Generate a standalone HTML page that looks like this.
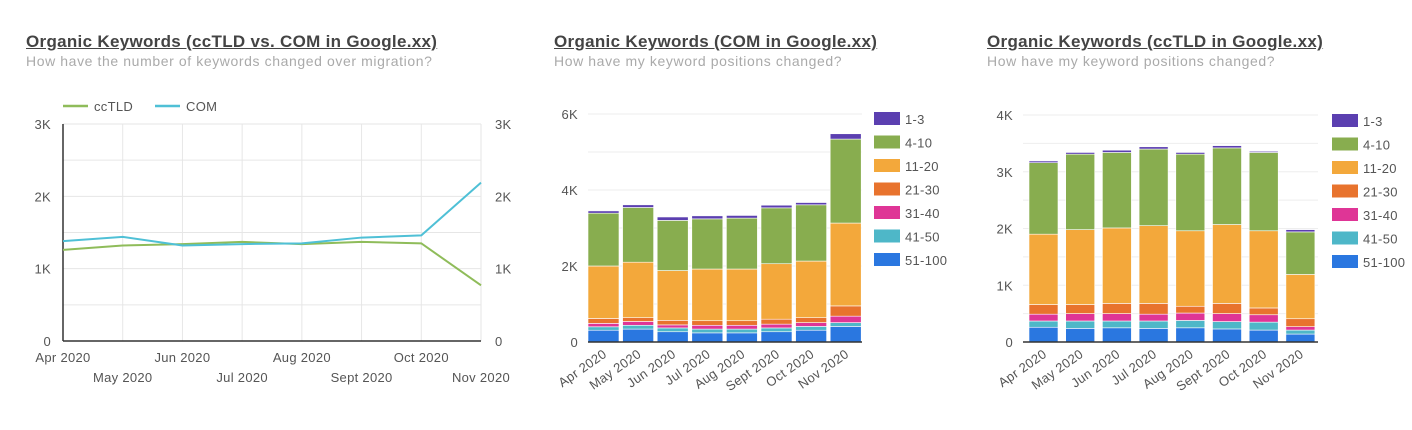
<!DOCTYPE html>
<html><head><meta charset="utf-8"><style>
body{margin:0;width:1412px;height:430px;background:#fff;font-family:"Liberation Sans",sans-serif;overflow:hidden;position:relative}
.t{position:absolute;font-size:17px;font-weight:bold;color:#444;text-decoration:underline;white-space:nowrap;letter-spacing:0.3px}
.s{position:absolute;font-size:14px;color:#aaa;white-space:nowrap;letter-spacing:0.6px}
svg{position:absolute;left:0;top:0}
text{font-family:"Liberation Sans",sans-serif;fill:#555;font-size:13px;letter-spacing:0.3px}
</style></head><body>
<div class="t" style="left:26px;top:32px">Organic Keywords (ccTLD vs. COM in Google.xx)</div>
<div class="s" style="left:26px;top:53px">How have the number of keywords changed over migration?</div>
<div class="t" style="left:554px;top:32px">Organic Keywords (COM in Google.xx)</div>
<div class="s" style="left:554px;top:53px">How have my keyword positions changed?</div>
<div class="t" style="left:987px;top:32px">Organic Keywords (ccTLD in Google.xx)</div>
<div class="s" style="left:987px;top:53px">How have my keyword positions changed?</div>
<svg id="svg" width="1412" height="430"></svg>
<script>
const months=["Apr 2020","May 2020","Jun 2020","Jul 2020","Aug 2020","Sept 2020","Oct 2020","Nov 2020"];
const ccTLD=[1.26,1.32,1.34,1.37,1.34,1.37,1.35,0.77];
const COM=[1.38,1.44,1.32,1.34,1.35,1.43,1.46,2.19];
const lineTicks=["0","1K","2K","3K"];
const bands=["1-3","4-10","11-20","21-30","31-40","41-50","51-100"];
const bandColors=["#5b3fb0","#88ad4f","#f3a83b","#e8732d","#df3596","#4eb7c8","#2a77e0"];
const com51=[0.31,0.34,0.27,0.24,0.24,0.27,0.31,0.41];
const com41=[0.09,0.10,0.10,0.10,0.10,0.10,0.10,0.10];
const com31=[0.09,0.10,0.08,0.10,0.10,0.10,0.10,0.17];
const com21=[0.13,0.10,0.12,0.12,0.12,0.13,0.13,0.27];
const com11=[1.38,1.46,1.31,1.36,1.36,1.46,1.49,2.18];
const com4=[1.39,1.44,1.32,1.32,1.34,1.47,1.48,2.21];
const com1=[0.06,0.07,0.09,0.08,0.07,0.07,0.06,0.14];
const comTicks=["0","2K","4K","6K"];
const cc51=[0.26,0.24,0.25,0.24,0.25,0.23,0.21,0.14];
const cc41=[0.11,0.13,0.12,0.13,0.13,0.13,0.14,0.07];
const cc31=[0.12,0.13,0.13,0.12,0.13,0.14,0.13,0.06];
const cc21=[0.17,0.16,0.18,0.19,0.12,0.18,0.12,0.14];
const cc11=[1.24,1.32,1.33,1.37,1.33,1.39,1.36,0.78];
const cc4=[1.26,1.33,1.33,1.35,1.35,1.35,1.38,0.75];
const cc1=[0.03,0.03,0.04,0.04,0.03,0.04,0.02,0.04];
const ccTicks=["0","1K","2K","3K","4K"];
const svg=document.getElementById('svg');
const NS="http://www.w3.org/2000/svg";
function mk(tag,attrs,name){const e=document.createElementNS(NS,tag);for(const k in attrs)e.setAttribute(k,attrs[k]);


svg.appendChild(e);return e;}
function txt(x,y,s,name,anchor,extra){const e=mk('text',Object.assign({x:x,y:y,'text-anchor':anchor||'start'},extra||{}),name);e.textContent=s;return e;}

(function(){
const x0=63,x1=481,y0=341,y1=124,max=3;
const X=i=>x0+i*(x1-x0)/(months.length-1);
const Y=v=>y0-v/max*(y0-y1);
for(let k=0;k<=6;k++){mk('line',{x1:x0,x2:x1,y1:Y(k*0.5),y2:Y(k*0.5),stroke:'#e6e6e6'},'gridline');}
months.forEach((m,i)=>{mk('line',{x1:X(i),x2:X(i),y1:y0,y2:y1,stroke:'#e6e6e6'},'v-gridline');
txt(X(i),i%2?382:362,m,'x-tick-label','middle');});
mk('line',{x1:x0,x2:x0,y1:y0,y2:y1,stroke:'#333','stroke-width':1.5},'y-axis');
mk('line',{x1:x0,x2:x1,y1:y0,y2:y0,stroke:'#333','stroke-width':1.5},'x-axis');
lineTicks.forEach((t,i)=>{txt(x0-12,Y(i)+5,t,'y-tick-label-left','end');txt(x1+14,Y(i)+5,t,'y-tick-label-right','start');});
mk('polyline',{points:ccTLD.map((v,i)=>X(i)+','+Y(v)).join(' '),fill:'none',stroke:'#8fbc5a','stroke-width':2},'ccTLD-line');
mk('polyline',{points:COM.map((v,i)=>X(i)+','+Y(v)).join(' '),fill:'none',stroke:'#4fc0d6','stroke-width':2},'COM-line');
mk('line',{x1:63,x2:88,y1:106,y2:106,stroke:'#8fbc5a','stroke-width':2.5},'legend-ccTLD-swatch');
txt(94,111,'ccTLD','legend-ccTLD');
mk('line',{x1:155,x2:180,y1:106,y2:106,stroke:'#4fc0d6','stroke-width':2.5},'legend-COM-swatch');
txt(186,111,'COM','legend-COM');
})();

function stacked(cfg){
const {x0,x1,y0,y1,max,ticks,tickStep,series,first,step,bw,legX,gridStep}=cfg;
const Y=v=>y0-v/max*(y0-y1);
for(let v=gridStep;v<=max+1e-9;v+=gridStep)mk('line',{x1:x0,x2:x1,y1:Y(v),y2:Y(v),stroke:'#eee'},'gridline');
ticks.forEach((t,i)=>txt(x0-10,Y(i*tickStep)+5,t,'y-tick-label','end'));
const order=[6,5,4,3,2,1,0];
months.forEach((m,i)=>{let acc=0;const x=first+i*step;
order.forEach((b,j)=>{const v=series[j][i];mk('rect',{x:x,y:Y(acc+v),width:bw,height:Math.max(0,Y(acc)-Y(acc+v)),fill:bandColors[b],stroke:'#fff','stroke-width':0.6},'bar-'+bands[b]+'-'+m);acc+=v;});
const cx=x+bw/2+4;txt(cx,y0+14,m,'x-tick-label','end',{transform:'rotate(-35 '+cx+' '+(y0+14)+')'});});
mk('line',{x1:x0,x2:x1,y1:y0,y2:y0,stroke:'#333','stroke-width':1.5},'x-axis');
bands.forEach((b,k)=>{const ly=cfg.legY+k*23.5;mk('rect',{x:legX,y:ly-7,width:26,height:13,fill:bandColors[k]},'legend-swatch-'+b);txt(legX+31,ly+5,b,'legend-label-'+b);});
}
stacked({x0:588,x1:862,y0:342,y1:114,max:6,ticks:comTicks,tickStep:2,gridStep:1,series:[com51,com41,com31,com21,com11,com4,com1],first:588,step:34.6,bw:31,legX:874,legY:119});
stacked({x0:1023,x1:1318,y0:342,y1:115,max:4,ticks:ccTicks,tickStep:1,gridStep:0.5,series:[cc51,cc41,cc31,cc21,cc11,cc4,cc1],first:1029,step:36.7,bw:29,legX:1332,legY:121});
</script>
</body></html>
